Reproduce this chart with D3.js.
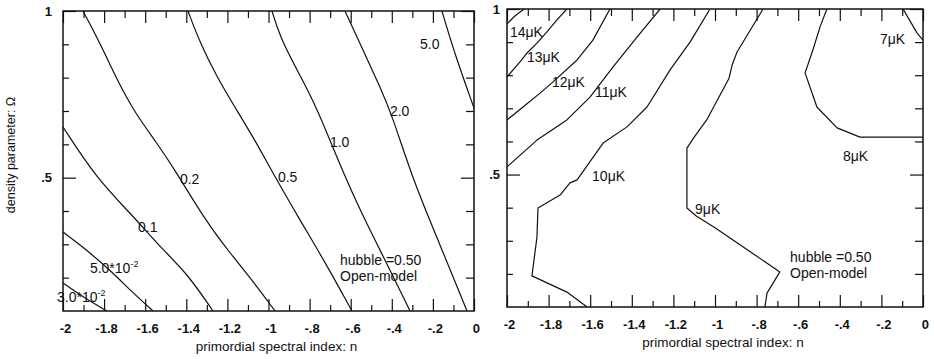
<!DOCTYPE html>
<html>
<head>
<meta charset="utf-8">
<script src="https://cdn.jsdelivr.net/npm/d3@7/dist/d3.min.js"></script>
<style>
  html, body { margin: 0; padding: 0; background: #fff; }
  svg { display: block; }
  text { font-family: "Liberation Sans", Arial, Helvetica, sans-serif; fill: #111; }
</style>
</head>
<body>
<svg id="chart" width="934" height="359"></svg>
<script>
// ---------- data ----------
const nMajorTicks = [-2, -1.8, -1.6, -1.4, -1.2, -1, -0.8, -0.6, -0.4, -0.2, 0];
const nTickLabels = ["-2", "-1.8", "-1.6", "-1.4", "-1.2", "-1", "-.8", "-.6", "-.4", "-.2", "0"];
const nMinorTicks = [-1.9, -1.7, -1.5, -1.3, -1.1, -0.9, -0.7, -0.5, -0.3, -0.1];
const omegaMajorTicks = [1, 0.5];
const omegaTickLabels = ["1", ".5"];
const omegaMinorTicks = [0.9, 0.8, 0.7, 0.6, 0.4, 0.3, 0.2];

// Left panel contours (n, Omega)
const left_3e2 = [[-2, 0.184], [-1.903, 0.142], [-1.786, 0.1]];
const left_5e2 = [[-2, 0.337], [-1.903, 0.292], [-1.771, 0.223], [-1.659, 0.154], [-1.562, 0.1]];
const left_0_1 = [[-2, 0.652], [-1.84, 0.5], [-1.659, 0.385], [-1.528, 0.292], [-1.397, 0.214], [-1.27, 0.1]];
const left_0_2 = [[-1.903, 1], [-1.82, 0.904], [-1.737, 0.793], [-1.65, 0.694], [-1.543, 0.604], [-1.455, 0.523], [-1.299, 0.364], [-1.187, 0.274], [-1.08, 0.193], [-0.968, 0.1]];
const left_0_5 = [[-1.392, 1], [-1.333, 0.904], [-1.251, 0.802], [-1.173, 0.721], [-1.066, 0.613], [-0.968, 0.502], [-0.847, 0.373], [-0.725, 0.247], [-0.594, 0.1]];
const left_1_0 = [[-0.983, 1], [-0.944, 0.922], [-0.861, 0.823], [-0.783, 0.733], [-0.701, 0.613], [-0.637, 0.517], [-0.555, 0.403], [-0.433, 0.253], [-0.311, 0.1]];
const left_2_0 = [[-0.628, 1], [-0.54, 0.883], [-0.457, 0.772], [-0.399, 0.688], [-0.297, 0.493], [-0.165, 0.298], [-0.034, 0.1]];
const left_5_0 = [[-0.156, 1], [-0.092, 0.868], [0, 0.709]];

// Right panel contours (n, Omega), temperature in microK
const right_14 = [[-2, 0.955], [-1.962, 0.979], [-1.918, 1]];
const right_13 = [[-2, 0.795], [-1.9375, 0.84], [-1.904, 0.867], [-1.856, 0.897], [-1.808, 0.931], [-1.76, 0.967], [-1.712, 1]];
const right_12 = [[-2, 0.665], [-1.923, 0.704], [-1.841, 0.746], [-1.784, 0.777], [-1.663, 0.846], [-1.587, 0.906], [-1.505, 1]];
const right_11 = [[-2, 0.523], [-1.856, 0.604], [-1.712, 0.665], [-1.601, 0.734], [-1.49, 0.825], [-1.375, 0.915], [-1.264, 1]];
const right_10 = [[-1.024, 1], [-1.12, 0.9], [-1.216, 0.816], [-1.327, 0.704], [-1.423, 0.644], [-1.538, 0.595], [-1.663, 0.484], [-1.697, 0.475], [-1.745, 0.438], [-1.851, 0.399], [-1.856, 0.311], [-1.88, 0.194], [-1.712, 0.145], [-1.615, 0.1]];
const right_9 = [[-0.769, 1], [-0.894, 0.87], [-0.918, 0.83], [-0.933, 0.79], [-1.04, 0.665], [-1.1, 0.613], [-1.135, 0.58], [-1.135, 0.399], [-1.09, 0.375], [-1.0, 0.339], [-0.688, 0.206], [-0.75, 0.142], [-0.76, 0.1]];
const right_8 = [[-0.462, 1], [-0.495, 0.946], [-0.529, 0.877], [-0.567, 0.807], [-0.51, 0.704], [-0.413, 0.641], [-0.303, 0.613], [0, 0.613]];
const right_7 = [[-0.096, 1], [-0.029, 0.928], [0, 0.906]];

// contour labels: [text, n, Omega] (text start, baseline)
const leftLabels = [
  ["5.0", -0.263, 0.886], ["2.0", -0.409, 0.685], ["1.0", -0.701, 0.592],
  ["0.5", -0.954, 0.487], ["0.2", -1.431, 0.481], ["0.1", -1.635, 0.337],
  ["5.0*10", -1.869, 0.214, "-2"], ["3.0*10", -2.029, 0.127, "-2"]
];
const rightLabels = [
  ["14\u03BCK", -1.986, 0.915], ["13\u03BCK", -1.904, 0.84], ["12\u03BCK", -1.784, 0.764],
  ["11\u03BCK", -1.577, 0.734], ["10\u03BCK", -1.591, 0.481], ["9\u03BCK", -1.096, 0.381],
  ["8\u03BCK", -0.385, 0.541], ["7\u03BCK", -0.207, 0.894]
];
const noteLines = ["hubble =0.50", "Open-model"];
const leftNotePos = [[-0.652, 0.238], [-0.652, 0.19]];
const rightNotePos = [[-0.639, 0.236], [-0.639, 0.188]];

const xTitle = "primordial spectral index:  n";
const yTitle = "density parameter: \u03A9";

// ---------- drawing ----------
const svg = d3.select("#chart");
const INK = "#111";

function panel(id, box, contours, labels, notePos, curve, yLabelPad) {
  const x = d3.scaleLinear().domain([-2, 0]).range([box.x0, box.x1]);
  const y = d3.scaleLinear().domain([0.1, 1]).range([box.y1, box.y0]);
  const g = svg.append("g");

  g.append("clipPath").attr("id", "clip" + id)
    .append("rect").attr("x", box.x0).attr("y", box.y0)
    .attr("width", box.x1 - box.x0).attr("height", box.y1 - box.y0);

  const line = d3.line().x(d => x(d[0])).y(d => y(d[1])).curve(curve);
  g.append("g").attr("clip-path", `url(#clip${id})`)
    .selectAll("path").data(contours).join("path")
    .attr("d", line).attr("fill", "none").attr("stroke", INK)
    .attr("stroke-width", 1.2).attr("stroke-linejoin", "round");

  const mk = (axisFn, scale, vals, size, fmt, transform, pad) => {
    const a = axisFn(scale).tickValues(vals).tickSize(size).tickPadding(pad || 3);
    if (fmt) a.tickFormat(fmt); else a.tickFormat("");
    const ag = g.append("g").attr("transform", transform).call(a);
    ag.select(".domain").remove();
    ag.selectAll("line").attr("stroke", INK).attr("stroke-width", 1.2);
    return ag;
  };
  const xl = (d) => nTickLabels[nMajorTicks.indexOf(d)];
  const yl = (d) => omegaTickLabels[omegaMajorTicks.indexOf(d)];
  const bx = mk(d3.axisBottom, x, nMajorTicks, -12, xl, `translate(0,${box.y1})`, 13);
  bx.selectAll("text").attr("font-size", 13).attr("fill", INK).attr("font-family", null).attr("font-weight", "bold").attr("dx", "0.15em");
  mk(d3.axisBottom, x, nMinorTicks, -6, null, `translate(0,${box.y1})`);
  mk(d3.axisTop, x, nMajorTicks, -12, null, `translate(0,${box.y0})`);
  mk(d3.axisTop, x, nMinorTicks, -7, null, `translate(0,${box.y0})`);
  const ly = mk(d3.axisLeft, y, omegaMajorTicks, -13, yl, `translate(${box.x0},0)`, yLabelPad);
  ly.selectAll("text").attr("font-size", 13).attr("fill", INK).attr("font-family", null).attr("font-weight", "bold");
  mk(d3.axisLeft, y, omegaMinorTicks, -6, null, `translate(${box.x0},0)`);
  mk(d3.axisRight, y, omegaMajorTicks, -13, null, `translate(${box.x1},0)`);
  mk(d3.axisRight, y, omegaMinorTicks, -8, null, `translate(${box.x1},0)`);

  g.append("rect").attr("x", box.x0).attr("y", box.y0)
    .attr("width", box.x1 - box.x0).attr("height", box.y1 - box.y0)
    .attr("fill", "none").attr("stroke", INK).attr("stroke-width", 1.5);

  labels.forEach(l => {
    const t = g.append("text").attr("x", x(l[1])).attr("y", y(l[2]))
      .attr("font-size", 14).attr("fill", INK).text(l[0]);
    if (l[3]) {
      t.append("tspan").attr("font-size", 9).attr("dy", -6).text(l[3]);
    }
  });
  noteLines.forEach((s, i) => {
    g.append("text").attr("x", x(notePos[i][0])).attr("y", y(notePos[i][1]))
      .attr("font-size", 14).attr("fill", INK).text(s);
  });

  g.append("text").attr("x", (box.x0 + box.x1) / 2 + 8).attr("y", box.y1 + 40)
    .attr("text-anchor", "middle").attr("font-size", 13.5).attr("fill", INK).text(xTitle);
  return { x, y };
}

panel("L", { x0: 63, x1: 474, y0: 11, y1: 311 },
  [left_3e2, left_5e2, left_0_1, left_0_2, left_0_5, left_1_0, left_2_0, left_5_0],
  leftLabels, leftNotePos, d3.curveBasis, 11);

panel("R", { x0: 507, x1: 923, y0: 9, y1: 307 },
  [right_14, right_13, right_12, right_11, right_10, right_9, right_8, right_7],
  rightLabels, rightNotePos, d3.curveLinear, 7);

svg.append("text")
  .attr("transform", "translate(15,155) rotate(-90)")
  .attr("text-anchor", "middle").attr("font-size", 12.5).attr("fill", INK)
  .text(yTitle);
</script>
</body>
</html>
